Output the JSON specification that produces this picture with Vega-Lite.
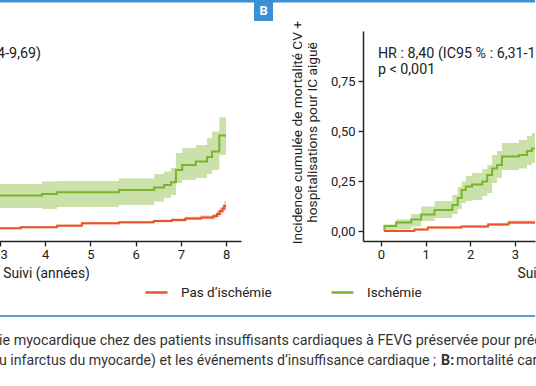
{
  "$schema": "https://vega.github.io/schema/vega-lite/v6.json",
  "padding": {"left": -3, "top": 0, "right": 0, "bottom": 0},
  "background": "white",
  "config": {
    "font": "Roboto",
    "view": {"stroke": null},
    "axis": {"domainColor": "#222222", "domainWidth": 1.5, "tickColor": "#222222", "tickWidth": 1.3, "tickSize": 5, "labelFontSize": 13, "labelColor": "#222222", "titleFontSize": 13.8, "titleFontWeight": "normal", "titleColor": "#222222", "grid": false}
  },
  "datasets": {
    "a": [
      {"group": "Ischémie", "t": 2.5, "est": 0.177, "lo": 0.115, "hi": 0.235},
      {"group": "Ischémie", "t": 3.93, "est": 0.185, "lo": 0.11, "hi": 0.247},
      {"group": "Ischémie", "t": 4.26, "est": 0.194, "lo": 0.12, "hi": 0.25},
      {"group": "Ischémie", "t": 5.63, "est": 0.205, "lo": 0.13, "hi": 0.263},
      {"group": "Ischémie", "t": 6.41, "est": 0.217, "lo": 0.147, "hi": 0.285},
      {"group": "Ischémie", "t": 6.63, "est": 0.23, "lo": 0.165, "hi": 0.297},
      {"group": "Ischémie", "t": 6.78, "est": 0.244, "lo": 0.18, "hi": 0.315},
      {"group": "Ischémie", "t": 6.89, "est": 0.305, "lo": 0.24, "hi": 0.39},
      {"group": "Ischémie", "t": 7.03, "est": 0.33, "lo": 0.255, "hi": 0.415},
      {"group": "Ischémie", "t": 7.33, "est": 0.347, "lo": 0.265, "hi": 0.43},
      {"group": "Ischémie", "t": 7.58, "est": 0.37, "lo": 0.285, "hi": 0.465},
      {"group": "Ischémie", "t": 7.69, "est": 0.397, "lo": 0.305, "hi": 0.497},
      {"group": "Ischémie", "t": 7.85, "est": 0.477, "lo": 0.38, "hi": 0.567},
      {"group": "Ischémie", "t": 8.0, "est": 0.477, "lo": 0.38, "hi": 0.567},
      {"group": "Pas d’ischémie", "t": 2.5, "est": 0.0135, "lo": 0.009, "hi": 0.018},
      {"group": "Pas d’ischémie", "t": 3.46, "est": 0.0185, "lo": 0.014, "hi": 0.023},
      {"group": "Pas d’ischémie", "t": 4.26, "est": 0.0265, "lo": 0.021, "hi": 0.032},
      {"group": "Pas d’ischémie", "t": 4.81, "est": 0.0385, "lo": 0.033, "hi": 0.044},
      {"group": "Pas d’ischémie", "t": 5.63, "est": 0.0435, "lo": 0.038, "hi": 0.049},
      {"group": "Pas d’ischémie", "t": 6.4, "est": 0.05, "lo": 0.044, "hi": 0.056},
      {"group": "Pas d’ischémie", "t": 6.8, "est": 0.055, "lo": 0.048, "hi": 0.062},
      {"group": "Pas d’ischémie", "t": 7.1, "est": 0.063, "lo": 0.055, "hi": 0.071},
      {"group": "Pas d’ischémie", "t": 7.45, "est": 0.068, "lo": 0.059, "hi": 0.077},
      {"group": "Pas d’ischémie", "t": 7.72, "est": 0.075, "lo": 0.064, "hi": 0.086},
      {"group": "Pas d’ischémie", "t": 7.8, "est": 0.085, "lo": 0.07, "hi": 0.1},
      {"group": "Pas d’ischémie", "t": 7.86, "est": 0.1, "lo": 0.082, "hi": 0.118},
      {"group": "Pas d’ischémie", "t": 7.92, "est": 0.112, "lo": 0.092, "hi": 0.133},
      {"group": "Pas d’ischémie", "t": 7.96, "est": 0.125, "lo": 0.103, "hi": 0.147},
      {"group": "Pas d’ischémie", "t": 8.0, "est": 0.125, "lo": 0.103, "hi": 0.147}
    ],
    "b": [
      {"group": "Ischémie", "t": 0.07, "est": 0.0, "lo": 0.0, "hi": 0.0},
      {"group": "Ischémie", "t": 0.08, "est": 0.025, "lo": 0.0, "hi": 0.032},
      {"group": "Ischémie", "t": 0.34, "est": 0.042, "lo": 0.008, "hi": 0.058},
      {"group": "Ischémie", "t": 0.68, "est": 0.058, "lo": 0.022, "hi": 0.085},
      {"group": "Ischémie", "t": 0.9, "est": 0.083, "lo": 0.05, "hi": 0.122},
      {"group": "Ischémie", "t": 1.2, "est": 0.105, "lo": 0.065, "hi": 0.15},
      {"group": "Ischémie", "t": 1.6, "est": 0.13, "lo": 0.085, "hi": 0.18},
      {"group": "Ischémie", "t": 1.72, "est": 0.165, "lo": 0.11, "hi": 0.22},
      {"group": "Ischémie", "t": 1.81, "est": 0.205, "lo": 0.14, "hi": 0.247},
      {"group": "Ischémie", "t": 1.9, "est": 0.222, "lo": 0.15, "hi": 0.275},
      {"group": "Ischémie", "t": 2.04, "est": 0.233, "lo": 0.155, "hi": 0.29},
      {"group": "Ischémie", "t": 2.27, "est": 0.247, "lo": 0.175, "hi": 0.31},
      {"group": "Ischémie", "t": 2.38, "est": 0.28, "lo": 0.19, "hi": 0.33},
      {"group": "Ischémie", "t": 2.49, "est": 0.313, "lo": 0.24, "hi": 0.38},
      {"group": "Ischémie", "t": 2.6, "est": 0.33, "lo": 0.265, "hi": 0.4},
      {"group": "Ischémie", "t": 2.71, "est": 0.372, "lo": 0.305, "hi": 0.44},
      {"group": "Ischémie", "t": 3.09, "est": 0.38, "lo": 0.313, "hi": 0.455},
      {"group": "Ischémie", "t": 3.27, "est": 0.4, "lo": 0.33, "hi": 0.475},
      {"group": "Ischémie", "t": 3.38, "est": 0.413, "lo": 0.34, "hi": 0.49},
      {"group": "Ischémie", "t": 3.6, "est": 0.43, "lo": 0.36, "hi": 0.5},
      {"group": "Pas d’ischémie", "t": 0.08, "est": 0.0, "lo": 0.0, "hi": 0.004},
      {"group": "Pas d’ischémie", "t": 0.75, "est": 0.008, "lo": 0.003, "hi": 0.013},
      {"group": "Pas d’ischémie", "t": 1.05, "est": 0.018, "lo": 0.012, "hi": 0.024},
      {"group": "Pas d’ischémie", "t": 1.8, "est": 0.022, "lo": 0.016, "hi": 0.028},
      {"group": "Pas d’ischémie", "t": 2.4, "est": 0.033, "lo": 0.026, "hi": 0.04},
      {"group": "Pas d’ischémie", "t": 2.86, "est": 0.043, "lo": 0.035, "hi": 0.051},
      {"group": "Pas d’ischémie", "t": 3.6, "est": 0.045, "lo": 0.037, "hi": 0.053}
    ]
  },
  "bounds": "flush",
  "spacing": 122,
  "hconcat": [
    {
      "width": 242,
      "height": 210,
      "layer": [
        {"data": {"name": "a"},
         "mark": {"type": "area", "interpolate": "step-after", "fillOpacity": 0.4, "clip": true},
         "encoding": {
           "x": {"field": "t", "type": "quantitative", "scale": {"domain": [2.978, 8.33], "nice": false, "zero": false}, "axis": {"values": [3, 4, 5, 6, 7, 8], "title": "Suivi (années)", "titleX": 47, "titleY": 32, "titleAlign": "center", "titleBaseline": "middle"}},
           "y": {"field": "lo", "type": "quantitative", "scale": {"domain": [-0.05, 1], "nice": false, "zero": false}, "axis": null},
           "y2": {"field": "hi"},
           "color": {"field": "group", "type": "nominal", "scale": {"domain": ["Pas d’ischémie", "Ischémie"], "range": ["#e8552b", "#7ab42a"]}, "legend": {"title": null, "orient": "none", "legendX": 145, "legendY": 249, "direction": "horizontal", "symbolType": "stroke", "symbolSize": 484, "symbolStrokeWidth": 2.5, "symbolOpacity": 1, "labelFontSize": 13.5, "labelColor": "#222222", "labelOffset": 12, "columnPadding": 54}}
         }},
        {"data": {"name": "a"},
         "mark": {"type": "line", "interpolate": "step-after", "strokeWidth": 2, "clip": true},
         "encoding": {
           "x": {"field": "t", "type": "quantitative"},
           "y": {"field": "est", "type": "quantitative"},
           "color": {"field": "group", "type": "nominal"}
         }},
        {"data": {"values": [{}]},
         "mark": {"type": "text", "clip": true, "align": "right", "baseline": "alphabetic", "fontSize": 14.3, "color": "#222222"},
         "encoding": {"x": {"datum": 3.907, "type": "quantitative"}, "y": {"datum": 0.865, "type": "quantitative"}, "text": {"value": "HR : 5,17 (IC95 % : 2,74-9,69)"}}},
        {"data": {"values": [{}]},
         "mark": {"type": "text", "clip": true, "align": "left", "baseline": "alphabetic", "fontSize": 14.3, "color": "#222222"},
         "encoding": {"x": {"datum": -0.07, "type": "quantitative"}, "y": {"datum": 0.785, "type": "quantitative"}, "text": {"value": "p < 0,001"}}},
        {"data": {"values": [{}]},
         "mark": {"type": "rule", "color": "#3d8fd4", "strokeWidth": 2.5},
         "encoding": {"x": {"datum": 2.978, "type": "quantitative"}, "x2": {"datum": 14.833}, "y": {"datum": 1.14875, "type": "quantitative"}}},
        {"data": {"values": [{}]},
         "mark": {"type": "rect", "color": "#3d8fd4"},
         "encoding": {"x": {"datum": 8.618, "type": "quantitative"}, "x2": {"datum": 9.038}, "y": {"datum": 1.155, "type": "quantitative"}, "y2": {"datum": 1.05}}},
        {"data": {"values": [{}]},
         "mark": {"type": "text", "color": "white", "fontWeight": "bold", "fontSize": 13, "align": "center", "baseline": "middle"},
         "encoding": {"x": {"datum": 8.828, "type": "quantitative"}, "y": {"datum": 1.1025, "type": "quantitative"}, "text": {"value": "B"}}},
        {"data": {"values": [{}]},
         "mark": {"type": "rule", "color": "#5c9fdc", "strokeWidth": 2},
         "encoding": {"x": {"datum": 2.978, "type": "quantitative"}, "x2": {"datum": 14.833}, "y": {"datum": -0.425, "type": "quantitative"}}},
        {"data": {"values": [{}]},
         "mark": {"type": "text", "align": "left", "baseline": "alphabetic", "fontSize": 14.3, "color": "#333333"},
         "encoding": {"x": {"datum": 2.979, "type": "quantitative"}, "y": {"datum": -0.57, "type": "quantitative"}, "text": {"value": "ie myocardique chez des patients insuffisants cardiaques à FEVG préservée pour prédire les"}}},
        {"data": {"values": [{}]},
         "mark": {"type": "text", "align": "left", "baseline": "alphabetic", "fontSize": 14.15, "color": "#333333"},
         "encoding": {"x": {"datum": 2.979, "type": "quantitative"}, "y": {"datum": -0.6675, "type": "quantitative"}, "text": {"value": "u infarctus du myocarde) et les événements d’insuffisance cardiaque ;"}}},
        {"data": {"values": [{}]},
         "mark": {"type": "text", "align": "left", "baseline": "alphabetic", "fontSize": 14.3, "fontWeight": "bold", "color": "#333333"},
         "encoding": {"x": {"datum": 12.754, "type": "quantitative"}, "y": {"datum": -0.6675, "type": "quantitative"}, "text": {"value": "B:"}}},
        {"data": {"values": [{}]},
         "mark": {"type": "text", "align": "left", "baseline": "alphabetic", "fontSize": 14.3, "color": "#333333"},
         "encoding": {"x": {"datum": 13.086, "type": "quantitative"}, "y": {"datum": -0.6675, "type": "quantitative"}, "text": {"value": "mortalité cardiovasculaire et hospitalisations"}}}
      ]
    },
    {
      "width": 172,
      "height": 210,
      "layer": [
        {"data": {"name": "b"},
         "mark": {"type": "area", "interpolate": "step-after", "fillOpacity": 0.4, "clip": true},
         "encoding": {
           "x": {"field": "t", "type": "quantitative", "scale": {"domain": [-0.4, 3.45], "nice": false, "zero": false}, "axis": {"values": [0, 1, 2, 3], "title": "Suivi (années)", "titleX": 154, "titleY": 32, "titleAlign": "left", "titleBaseline": "middle"}},
           "y": {"field": "lo", "type": "quantitative", "scale": {"domain": [-0.05, 1], "nice": false, "zero": false}, "axis": {"values": [0, 0.25, 0.5, 0.75], "labelExpr": "replace(format(datum.value, '.2f'), '.', ',')", "labelPadding": 3, "title": ["Incidence cumulée de mortalité CV +", "hospitalisations pour IC aiguë"], "titleFontSize": 13.7, "titleLineHeight": 15, "titleX": -73, "titleY": 101, "titleAlign": "center", "titleBaseline": "top", "titleAngle": -90}},
           "y2": {"field": "hi"},
           "color": {"field": "group", "type": "nominal"}
         }},
        {"data": {"name": "b"},
         "mark": {"type": "line", "interpolate": "step-after", "strokeWidth": 2, "clip": true},
         "encoding": {
           "x": {"field": "t", "type": "quantitative"},
           "y": {"field": "est", "type": "quantitative"},
           "color": {"field": "group", "type": "nominal"}
         }},
        {"data": {"values": [{}]},
         "mark": {"type": "text", "clip": true, "align": "left", "baseline": "alphabetic", "fontSize": 14.3, "color": "#222222"},
         "encoding": {"x": {"datum": -0.067, "type": "quantitative"}, "y": {"datum": 0.865, "type": "quantitative"}, "text": {"value": "HR : 8,40 (IC95 % : 6,31-11,18)"}}},
        {"data": {"values": [{}]},
         "mark": {"type": "text", "clip": true, "align": "left", "baseline": "alphabetic", "fontSize": 14.3, "color": "#222222"},
         "encoding": {"x": {"datum": -0.067, "type": "quantitative"}, "y": {"datum": 0.785, "type": "quantitative"}, "text": {"value": "p < 0,001"}}}
      ]
    }
  ]
}
